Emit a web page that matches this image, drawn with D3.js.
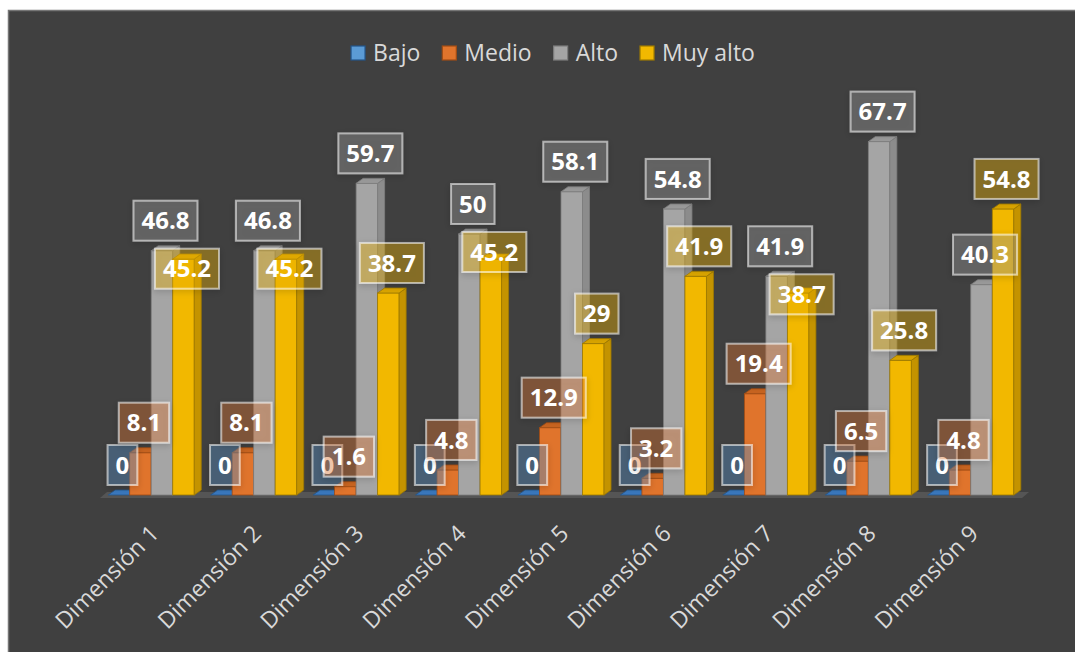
<!DOCTYPE html>
<html>
<head>
<meta charset="utf-8">
<script src="https://cdn.jsdelivr.net/npm/d3@7"></script>
<style>
  html, body { margin: 0; padding: 0; background: #ffffff; }
  svg { display: block; font-family: "Open Sans", "Noto Sans", sans-serif; }
</style>
</head>
<body>
<svg id="vis" width="1075" height="652"></svg>
<script>
// data
const categories = ["Dimensión 1", "Dimensión 2", "Dimensión 3", "Dimensión 4", "Dimensión 5",
                    "Dimensión 6", "Dimensión 7", "Dimensión 8", "Dimensión 9"];
const seriesNames = ["Bajo", "Medio", "Alto", "Muy alto"];
const bajo    = [0, 0, 0, 0, 0, 0, 0, 0, 0];
const medio   = [8.1, 8.1, 1.6, 4.8, 12.9, 3.2, 19.4, 6.5, 4.8];
const alto    = [46.8, 46.8, 59.7, 50, 58.1, 54.8, 41.9, 67.7, 40.3];
const muyAlto = [45.2, 45.2, 38.7, 45.2, 29, 41.9, 38.7, 25.8, 54.8];

const seriesValues = [bajo, medio, alto, muyAlto];

const colors = {
  front: ["#5b9bd5", "#e0742c", "#a5a5a5", "#f2b800"],
  side:  ["#2e6cb0", "#b25618", "#8c8c8c", "#c49300"],
  top:   ["#3a78bd", "#c86420", "#9a9a9a", "#d9a400"],
  edge:  ["#23558a", "#a04c14", "#7d7d7d", "#9e7a00"],
  label: ["#5b9bd5", "#ed7d31", "#a5a5a5", "#ffc000"]
};

const W = 1075, H = 652;
const svg = d3.select("#vis");

const defs = svg.append("defs");
const shadow = defs.append("filter").attr("id", "shadow")
  .attr("x", "-30%").attr("y", "-30%").attr("width", "160%").attr("height", "160%");
shadow.append("feDropShadow").attr("dx", 0).attr("dy", 2).attr("stdDeviation", 3)
  .attr("flood-color", "#000").attr("flood-opacity", 0.35);

// chart area
svg.append("rect")
  .attr("x", 8.5).attr("y", 10.5)
  .attr("width", W).attr("height", H)
  .attr("fill", "#404040")
  .attr("stroke", "#767676").attr("stroke-width", 1.5);

const baseY = 495;
const depthX = 7, depthY = 5;

const y = d3.scaleLinear().domain([0, 70]).range([baseY, baseY - 70 * 5.22]);
const x0 = d3.scaleBand().domain(categories).range([100, 1022])
  .paddingInner(0.16).paddingOuter(0.08);
const x1 = d3.scaleBand().domain(seriesNames).range([0, x0.bandwidth()]);

// floor
const fx0 = x0.range()[0], fx1 = x0.range()[1];
svg.append("path")
  .attr("d", `M${fx0},${baseY + 3} L${fx1},${baseY + 3} L${fx1 + depthX},${baseY - depthY + 2} L${fx0 + depthX},${baseY - depthY + 2} Z`)
  .attr("fill", "#555555");

// legend
const legendG = svg.append("g").attr("class", "legend");
let lx = 0;
seriesNames.forEach((name, i) => {
  const g = legendG.append("g");
  g.append("rect").attr("x", 0).attr("y", -7).attr("width", 14).attr("height", 14)
    .attr("fill", colors.front[i]).attr("stroke", colors.edge[i]).attr("stroke-width", 1.2);
  const t = g.append("text").attr("x", 22).attr("y", 0).attr("dy", "0.35em")
    .attr("font-size", 23).attr("fill", "#d9d9d9").text(name);
  g.attr("transform", `translate(${lx},0)`);
  lx += 22 + t.node().getComputedTextLength() + 22;
});
const legendW = lx - 22;
legendG.attr("transform", `translate(${553 - legendW / 2},53)`);

// bars
const barsG = svg.append("g");
const bw = x1.bandwidth();

categories.forEach((cat, ci) => {
  const g = barsG.append("g");
  seriesNames.forEach((s, si) => {
    const v = seriesValues[si][ci];
    const xl = x0(cat) + x1(s);
    const xr = xl + bw;
    const yt = y(v);
    if (v > 0) {
      // front
      g.append("rect").attr("x", xl).attr("y", yt).attr("width", bw).attr("height", baseY - yt)
        .attr("fill", colors.front[si]).attr("stroke", colors.edge[si]).attr("stroke-width", 0.8);
      // side
      g.append("path")
        .attr("d", `M${xr},${yt} L${xr + depthX},${yt - depthY} L${xr + depthX},${baseY - depthY} L${xr},${baseY} Z`)
        .attr("fill", colors.side[si]).attr("stroke", colors.edge[si]).attr("stroke-width", 0.8);
    }
    // top
    g.append("path")
      .attr("d", `M${xl},${yt} L${xr},${yt} L${xr + depthX},${yt - depthY} L${xl + depthX},${yt - depthY} Z`)
      .attr("fill", colors.top[si]).attr("stroke", colors.edge[si]).attr("stroke-width", 0.8);
  });
});

// value labels
const labelsG = svg.append("g");
const boxH = 40;
categories.forEach((cat, ci) => {
  const placed = [];
  seriesNames.forEach((s, si) => {
    const v = seriesValues[si][ci];
    const cx = x0(cat) + x1(s) + bw / 2 + depthX / 2;
    let cy = y(v) - 30;
    // last series label is pushed under the previous one when they collide
    if (si === seriesNames.length - 1) {
      const prev = placed[si - 1];
      if (Math.abs(prev.cy - cy) < boxH) cy = prev.cy + 48;
    }
    const g = labelsG.append("g").attr("transform", `translate(${cx},${cy})`);
    const rect = g.append("rect");
    const t = g.append("text").attr("text-anchor", "middle").attr("dy", "0.36em")
      .attr("font-size", 24).attr("font-weight", 700).attr("fill", "#ffffff").text(v);
    const tw = t.node().getComputedTextLength();
    const bwid = tw + 16;
    rect.attr("x", -bwid / 2).attr("y", -boxH / 2).attr("width", bwid).attr("height", boxH)
      .attr("fill", colors.label[si]).attr("fill-opacity", 0.33)
      .attr("stroke", "rgba(255,255,255,0.55)").attr("stroke-width", 2)
      .attr("filter", "url(#shadow)");
    placed.push({ cx, cy });
  });
});

// category axis labels
const axisG = svg.append("g");
categories.forEach(cat => {
  const cx = x0(cat) + x0.bandwidth() / 2 + 9;
  axisG.append("text")
    .attr("transform", `translate(${cx},535) rotate(-45)`)
    .attr("text-anchor", "end")
    .attr("font-size", 23)
    .attr("fill", "#d9d9d9")
    .text(cat);
});
</script>
</body>
</html>
